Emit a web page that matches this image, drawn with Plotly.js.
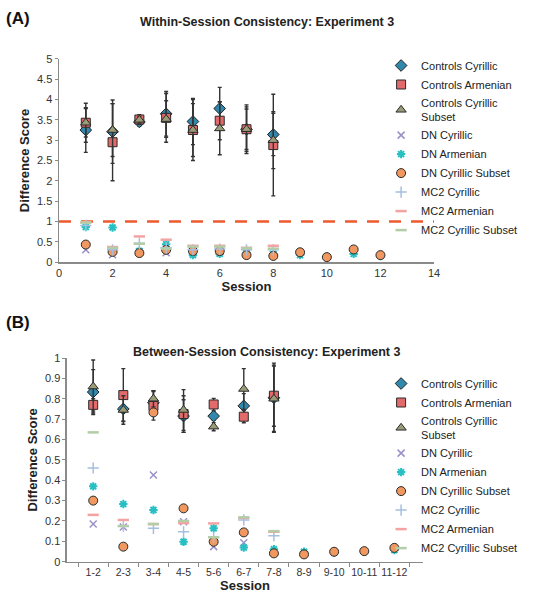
<!DOCTYPE html>
<html><head><meta charset="utf-8">
<script src="https://cdn.plot.ly/plotly-3.0.1.min.js"></script>
<style>html,body{margin:0;padding:0;background:#fff;} #chart{width:533px;height:600px;}</style>
</head><body><div id="chart"></div>
<script>
// ---------- DATA ----------
const seriesNames = ["Controls Cyrillic", "Controls Armenian", "Controls Cyrillic<br>Subset",
  "DN Cyrillic", "DN Armenian", "DN Cyrillic Subset", "MC2 Cyrillic", "MC2 Armenian", "MC2 Cyrillic Subset"];

// Panel A: within-session (x = session number)
const sessionsControlsA = [1, 2, 3, 4, 5, 6, 7, 8];
const sessionsDNA = [1, 2, 3, 4, 5, 6, 7, 8, 9, 10, 11, 12];
const sessionsDNCyrA = [1, 2, 3, 4, 5, 6, 7, 8];
const sessionsMC2A = [1, 2, 3, 4, 5, 6, 7, 8];
const ctrlCyrA = [3.25, 3.21, 3.45, 3.65, 3.46, 3.78, 3.27, 3.14];
const ctrlCyrErrA = [0.55, 0.78, 0.10, 0.55, 0.57, 0.52, 0.60, 0.52];
const ctrlArmA = [3.43, 2.95, 3.51, 3.55, 3.25, 3.48, 3.27, 2.88];
const ctrlArmErrA = [0.48, 0.95, 0.12, 0.60, 0.75, 0.47, 0.55, 1.25];
const ctrlSubA = [3.43, 3.25, 3.50, 3.52, 3.25, 3.29, 3.27, 3.00];
const ctrlSubErrA = [0.35, 0.65, 0.08, 0.45, 0.65, 0.65, 0.50, 0.70];
const dnCyrA = [0.30, 0.18, 0.25, 0.23, 0.22, 0.25, 0.20, 0.18];
const dnArmA = [0.86, 0.85, 0.27, 0.44, 0.17, 0.20, 0.22, 0.20, 0.17, 0.13, 0.20, 0.15];
const dnSubA = [0.43, 0.25, 0.22, 0.30, 0.27, 0.27, 0.17, 0.15, 0.24, 0.12, 0.31, 0.17];
const mc2CyrA = [0.90, 0.30, 0.46, 0.35, 0.30, 0.32, 0.30, 0.30];
const mc2ArmA = [0.98, 0.37, 0.63, 0.55, 0.40, 0.40, 0.35, 0.40];
const mc2SubA = [0.97, 0.35, 0.45, 0.33, 0.38, 0.38, 0.34, 0.33];
const thresholdX = [0, 14];
const thresholdY = [1, 1];

// Panel B: between-session (x = session pair)
const pairsB = ["1-2", "2-3", "3-4", "4-5", "5-6", "6-7", "7-8", "8-9", "9-10", "10-11", "11-12"];
const pairsControlsB = ["1-2", "2-3", "3-4", "4-5", "5-6", "6-7", "7-8"];
const ctrlCyrB = [0.833, 0.750, 0.780, 0.715, 0.715, 0.765, 0.805];
const ctrlCyrErrB = [0.11, 0.06, 0.06, 0.08, 0.02, 0.06, 0.17];
const ctrlArmB = [0.770, 0.818, 0.765, 0.725, 0.772, 0.712, 0.815];
const ctrlArmErrB = [0.03, 0.13, 0.07, 0.09, 0.03, 0.03, 0.15];
const ctrlSubB = [0.860, 0.745, 0.800, 0.745, 0.663, 0.848, 0.800];
const ctrlSubErrB = [0.13, 0.07, 0.04, 0.10, 0.02, 0.10, 0.16];
const dnCyrB = [0.185, 0.170, 0.426, 0.196, 0.074, 0.093, 0.045];
const dnArmB = [0.370, 0.283, 0.254, 0.098, 0.164, 0.070, 0.061, 0.049, 0.045, 0.050, 0.057];
const dnSubB = [0.300, 0.074, 0.733, 0.262, 0.098, 0.144, 0.041, 0.036, 0.049, 0.052, 0.068];
const mc2CyrB = [0.460, 0.175, 0.164, 0.147, 0.120, 0.205, 0.128];
const mc2ArmB = [0.230, 0.205, 0.185, 0.190, 0.188, 0.215, 0.147];
const mc2SubB = [0.635, 0.175, 0.185, 0.200, 0.120, 0.218, 0.150];

// ---------- STYLES ----------
const FONT = "Liberation Sans, Arial, sans-serif";
const styles = [
  {symbol: "diamond", size: 9, color: "#3188ad", line: {color: "#1f1f1f", width: 1}},
  {symbol: "square", size: 9, color: "#e26a6a", line: {color: "#2a2a2a", width: 1}},
  {symbol: "triangle-up", size: 9, color: "#9a9c78", line: {color: "#2a2a2a", width: 1}},
  {symbol: "x-thin-open", size: 7, color: "#9b90c8", line: {color: "#9b90c8", width: 1.5}},
  {symbol: "asterisk-open", size: 7, color: "#26c0c2", line: {color: "#26c0c2", width: 2}},
  {symbol: "circle", size: 9, color: "#f0985f", line: {color: "#2a2a2a", width: 1}},
  {symbol: "cross-thin-open", size: 8, color: "#a4bfe0", line: {color: "#a4bfe0", width: 1.5}},
  {symbol: "line-ew-open", size: 8, color: "#f4a3a3", line: {color: "#f4a3a3", width: 2.5}},
  {symbol: "line-ew-open", size: 8, color: "#b3cea7", line: {color: "#b3cea7", width: 2.5}}
];

function mk(i, x, y, err, xa, ya, leg) {
  const t = {
    type: "scatter", mode: "markers", name: seriesNames[i], x: x, y: y,
    xaxis: xa, yaxis: ya, legend: leg, marker: styles[i], cliponaxis: false
  };
  if (err) t.error_y = {type: "data", array: err, visible: true, color: "#333333", thickness: 1.4, width: 2};
  return t;
}

const data = [
  {type: "scatter", mode: "lines", x: thresholdX, y: thresholdY, xaxis: "x", yaxis: "y",
   showlegend: false, hoverinfo: "skip", line: {color: "#ec5a2e", width: 2.5, dash: "12px,10px"}},
  mk(0, sessionsControlsA, ctrlCyrA, ctrlCyrErrA, "x", "y", "legend"),
  mk(1, sessionsControlsA, ctrlArmA, ctrlArmErrA, "x", "y", "legend"),
  mk(2, sessionsControlsA, ctrlSubA, ctrlSubErrA, "x", "y", "legend"),
  mk(3, sessionsDNCyrA, dnCyrA, null, "x", "y", "legend"),
  mk(4, sessionsDNA, dnArmA, null, "x", "y", "legend"),
  mk(5, sessionsDNA, dnSubA, null, "x", "y", "legend"),
  mk(6, sessionsMC2A, mc2CyrA, null, "x", "y", "legend"),
  mk(7, sessionsMC2A, mc2ArmA, null, "x", "y", "legend"),
  mk(8, sessionsMC2A, mc2SubA, null, "x", "y", "legend"),
  mk(0, pairsControlsB, ctrlCyrB, ctrlCyrErrB, "x2", "y2", "legend2"),
  mk(1, pairsControlsB, ctrlArmB, ctrlArmErrB, "x2", "y2", "legend2"),
  mk(2, pairsControlsB, ctrlSubB, ctrlSubErrB, "x2", "y2", "legend2"),
  mk(3, pairsControlsB, dnCyrB, null, "x2", "y2", "legend2"),
  mk(4, pairsB, dnArmB, null, "x2", "y2", "legend2"),
  mk(5, pairsB, dnSubB, null, "x2", "y2", "legend2"),
  mk(6, pairsControlsB, mc2CyrB, null, "x2", "y2", "legend2"),
  mk(7, pairsControlsB, mc2ArmB, null, "x2", "y2", "legend2"),
  mk(8, pairsControlsB, mc2SubB, null, "x2", "y2", "legend2")
];

const axisCommon = {
  showline: true, linecolor: "#8a8a8a", linewidth: 1.5, showgrid: false, zeroline: false,
  tickfont: {family: FONT, size: 11, color: "#333"}, automargin: false, fixedrange: true
};
const titleFont = {family: FONT, size: 13, color: "#222", weight: "bold"};

const layout = {
  width: 533, height: 600, margin: {l: 0, r: 0, t: 0, b: 0},
  paper_bgcolor: "#fff", plot_bgcolor: "#fff", font: {family: FONT, size: 11, color: "#222"},
  xaxis: Object.assign({}, axisCommon, {domain: [0.1107, 0.8143], range: [0, 14], dtick: 2, anchor: "y",
    ticks: "", title: {text: "Session", font: titleFont, standoff: 4}}),
  yaxis: Object.assign({}, axisCommon, {domain: [0.5633, 0.9017], range: [0, 5], dtick: 0.5, anchor: "x",
    ticks: "outside", ticklen: 3, tickcolor: "#8a8a8a", title: {text: "Difference Score", font: titleFont, standoff: 4}}),
  xaxis2: Object.assign({}, axisCommon, {domain: [0.1257, 0.7936], type: "category", categoryarray: pairsB,
    categoryorder: "array", range: [-0.87, 10.95], anchor: "y2", ticks: "outside", ticklen: 4, tickangle: 0,
    tickfont: {family: FONT, size: 10.5, color: "#333"},
    tickson: "boundaries", tickcolor: "#8a8a8a", title: {text: "Session", font: titleFont, standoff: 4}}),
  yaxis2: Object.assign({}, axisCommon, {domain: [0.0638, 0.4033], range: [0, 1], dtick: 0.1, anchor: "x2",
    ticks: "outside", ticklen: 3, tickcolor: "#8a8a8a", title: {text: "Difference Score", font: titleFont, standoff: 4}}),
  legend: {x: 0.715, y: 0.915, xanchor: "left", yanchor: "top", bgcolor: "rgba(255,255,255,0)",
    font: {family: FONT, size: 11, color: "#222"}, itemwidth: 30, tracegroupgap: 0},
  legend2: {x: 0.715, y: 0.385, xanchor: "left", yanchor: "top", bgcolor: "rgba(255,255,255,0)",
    font: {family: FONT, size: 11, color: "#222"}, itemwidth: 30, tracegroupgap: 0},
  showlegend: true,
  annotations: [
    {text: "(A)", xref: "paper", yref: "paper", x: 0.008, y: 0.97, xanchor: "left", yanchor: "middle",
     showarrow: false, font: {family: FONT, size: 17, color: "#111", weight: "bold"}},
    {text: "Within-Session Consistency: Experiment 3", xref: "paper", yref: "paper", x: 0.5, y: 0.963,
     xanchor: "center", yanchor: "middle", showarrow: false, font: {family: FONT, size: 12.5, color: "#222", weight: "bold"}},
    {text: "(B)", xref: "paper", yref: "paper", x: 0.008, y: 0.4633, xanchor: "left", yanchor: "middle",
     showarrow: false, font: {family: FONT, size: 17, color: "#111", weight: "bold"}},
    {text: "Between-Session Consistency: Experiment 3", xref: "paper", yref: "paper", x: 0.5, y: 0.4133,
     xanchor: "center", yanchor: "middle", showarrow: false, font: {family: FONT, size: 12.5, color: "#222", weight: "bold"}}
  ]
};

Plotly.newPlot("chart", data, layout, {displayModeBar: false, staticPlot: true});
</script>
</body></html>
